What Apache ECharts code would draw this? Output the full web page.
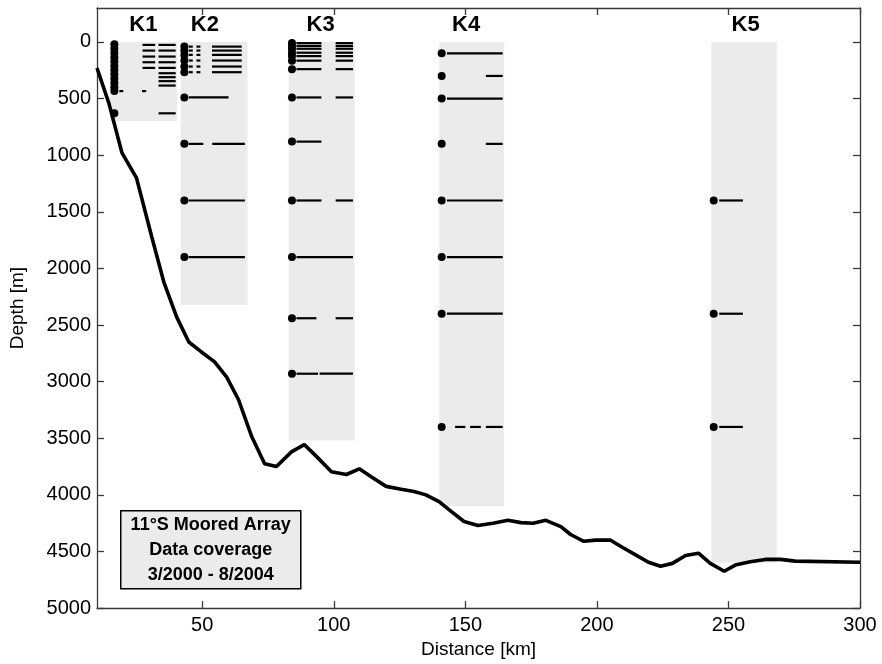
<!DOCTYPE html>
<html>
<head>
<meta charset="utf-8">
<script src="https://cdn.jsdelivr.net/npm/echarts@6/dist/echarts.min.js"></script>
<style>
  html, body { margin: 0; padding: 0; background: #fff; }
  #chart { width: 882px; height: 664px; }
</style>
</head>
<body>
<div id="chart"></div>
<script>
// Axis ticks
const xTicks = [50, 100, 150, 200, 250, 300];
const yTicks = [0, 500, 1000, 1500, 2000, 2500, 3000, 3500, 4000, 4500, 5000];

// Bottom topography along the section
const distKm = [10, 14.5, 19.5, 25, 30.8, 35.4, 40.3, 44.9, 49.8, 54.7, 59.3, 63.8, 68.8, 73.7, 78.2,
  83.9, 88.8, 93.4, 99.1, 104.8, 109.7, 114.2, 119.9, 125.6, 130.5, 135, 140, 144.6, 149.5, 154.8,
  160.5, 166.2, 171.1, 175.7, 180.6, 186.3, 190, 195, 199.5, 205.2, 209.8, 214.7, 219.6, 224.2,
  228.7, 233.7, 238.6, 243.1, 248.4, 252.6, 258.3, 264, 269.7, 275.4, 300];
const depthM = [230, 540, 980, 1200, 1720, 2120, 2430, 2650, 2740, 2825, 2960, 3160, 3485, 3725, 3750,
  3620, 3556, 3660, 3795, 3820, 3770, 3840, 3925, 3950, 3970, 4000, 4060, 4145, 4235, 4270,
  4250, 4225, 4245, 4250, 4225, 4280, 4350, 4410, 4400, 4400, 4465, 4530, 4595, 4630,
  4605, 4535, 4515, 4605, 4675, 4620, 4590, 4570, 4570, 4585, 4595];

// Moorings: name, label position, shaded coverage panel extent (km) and panel bottom depth (m)
const moorNames = ['K1', 'K2', 'K3', 'K4', 'K5'];
const labelKm = [27.6, 51.0, 95.0, 150.3, 256.5];
const panelStart = [15, 41.8, 82.9, 140.1, 243.5];
const panelEnd = [40.4, 67.2, 107.9, 164.8, 268.4];
const panelBottom = [700, 2320, 3520, 4100, 4600];
const dotKm = [16.6, 43.2, 84.1, 141, 244.4];

// Instrument depths (m) per mooring
const k1Depths = [20, 58, 96, 134, 172, 210, 248, 286, 324, 362, 400, 434, 630];
const k2Depths = [41, 76, 114, 164, 217, 267, 490, 900, 1400, 1900];
const k3Depths = [10, 35, 60, 95, 125, 165, 240, 490, 880, 1400, 1900, 2440, 2930];
const k4Depths = [100, 300, 500, 900, 1400, 1900, 2400, 3400];
const k5Depths = [1400, 2400, 3400];

// Record segments: [depth m, start km, end km]
const k1Records = [
  [26, 27.3, 32.1], [76, 27.3, 32.1], [129, 27.3, 32.1], [179, 27.3, 32.1], [229, 27.3, 32.1],
  [26, 33.4, 39.9], [76, 33.4, 39.9], [129, 33.4, 39.9], [179, 33.4, 39.9], [229, 33.4, 39.9],
  [276, 33.4, 39.9], [311, 33.4, 39.9], [346, 33.4, 39.9], [385, 33.4, 39.9],
  [434, 18.5, 20.0], [434, 27.1, 28.7], [630, 33.4, 39.9]
];
const k2Records = [
  [41, 44.9, 46.4], [41, 47.8, 49.3], [41, 53.7, 65.0],
  [76, 44.9, 46.4], [76, 47.8, 49.3], [76, 53.7, 65.0],
  [114, 44.9, 46.4], [114, 47.8, 49.3], [114, 53.7, 65.0],
  [164, 44.9, 46.4], [164, 47.8, 49.3], [164, 53.7, 65.0],
  [217, 44.9, 46.4], [217, 47.8, 49.3], [217, 53.7, 65.0],
  [267, 44.9, 46.4], [267, 47.8, 49.3], [267, 53.7, 65.0],
  [490, 44.9, 60.0],
  [900, 44.8, 50.4], [900, 53.8, 66.2],
  [1400, 44.8, 66.2], [1900, 44.8, 66.2]
];
const k3Records = [
  [10, 85.8, 95.3], [35, 85.8, 95.3], [60, 85.8, 95.3], [95, 85.8, 95.3], [125, 85.8, 95.3], [165, 85.8, 95.3], [240, 85.8, 95.3],
  [10, 100.7, 107.3], [35, 100.7, 107.3], [60, 100.7, 107.3], [95, 100.7, 107.3], [125, 100.7, 107.3], [165, 100.7, 107.3], [240, 100.7, 107.3],
  [490, 85.8, 95.3], [490, 100.7, 107.3],
  [880, 85.8, 95.3],
  [1400, 85.8, 95.3], [1400, 100.7, 107.3],
  [1900, 85.8, 107.3],
  [2440, 85.8, 93.4], [2440, 100.7, 107.3],
  [2930, 85.8, 94.0], [2930, 94.6, 107.3]
];
const k4Records = [
  [100, 143, 164.2], [300, 157.8, 164.2], [500, 143, 164.2], [900, 157.8, 164.2],
  [1400, 143, 164.2], [1900, 143, 164.2], [2400, 143, 164.2],
  [3400, 146.1, 150.0], [3400, 151.8, 155.9], [3400, 157.8, 164.2]
];
const k5Records = [
  [1400, 246.5, 255.5], [2400, 246.5, 255.5], [3400, 246.5, 255.5]
];

const FONT = '"Liberation Sans", Arial, sans-serif';
const chart = echarts.init(document.getElementById('chart'));

const depthsAll = [k1Depths, k2Depths, k3Depths, k4Depths, k5Depths];
const dotData = [];
depthsAll.forEach((arr, i) => arr.forEach(d => dotData.push([dotKm[i], d])));
const recordData = [].concat(k1Records, k2Records, k3Records, k4Records, k5Records);
const panelData = moorNames.map((n, i) => [panelStart[i], panelEnd[i], panelBottom[i], labelKm[i]]);

const axisLineStyle = { color: '#3a3a3a', width: 1.3 };
const plainNumber = v => String(v);

chart.setOption({
  animation: false,
  backgroundColor: '#fff',
  grid: { left: 94, right: 22, top: 8, bottom: 52, containLabel: false },
  xAxis: [{
    type: 'value', min: 10, max: 300, position: 'bottom',
    name: 'Distance [km]', nameLocation: 'middle', nameGap: 31,
    nameTextStyle: { fontFamily: FONT, fontSize: 19, color: '#000' },
    axisLine: { show: true, onZero: false, lineStyle: axisLineStyle },
    axisTick: { show: true, inside: true, length: 7, customValues: xTicks, lineStyle: axisLineStyle },
    axisLabel: { customValues: xTicks, formatter: plainNumber, fontFamily: FONT, fontSize: 20, color: '#000', margin: 7 },
    splitLine: { show: false }
  }, {
    type: 'value', min: 10, max: 300, position: 'top',
    axisLine: { show: true, onZero: false, lineStyle: axisLineStyle },
    axisTick: { show: true, inside: true, length: 7, customValues: xTicks, lineStyle: axisLineStyle },
    axisLabel: { show: false },
    splitLine: { show: false }
  }],
  yAxis: [{
    type: 'value', min: -300, max: 5000, inverse: true, position: 'left',
    name: 'Depth [m]', nameLocation: 'middle', nameGap: 70, nameRotate: 90,
    nameTextStyle: { fontFamily: FONT, fontSize: 19, color: '#000' },
    axisLine: { show: true, onZero: false, lineStyle: axisLineStyle },
    axisTick: { show: true, inside: true, length: 7, customValues: yTicks, lineStyle: axisLineStyle },
    axisLabel: { customValues: yTicks, formatter: plainNumber, fontFamily: FONT, fontSize: 20, color: '#000', margin: 6 },
    splitLine: { show: false }
  }, {
    type: 'value', min: -300, max: 5000, inverse: true, position: 'right',
    axisLine: { show: true, onZero: false, lineStyle: axisLineStyle },
    axisTick: { show: true, inside: true, length: 7, customValues: yTicks, lineStyle: axisLineStyle },
    axisLabel: { show: false },
    splitLine: { show: false }
  }],
  series: [
    {
      // shaded coverage panels and mooring names
      type: 'custom',
      z: 1,
      data: panelData,
      renderItem: function (params, api) {
        const x0 = api.value(0), x1 = api.value(1), bot = api.value(2);
        const p0 = api.coord([x0, 0]);
        const p1 = api.coord([x1, bot]);
        const pc = api.coord([api.value(3), -150]);
        return {
          type: 'group',
          children: [
            { type: 'rect', shape: { x: p0[0], y: p0[1], width: p1[0] - p0[0], height: p1[1] - p0[1] },
              style: { fill: '#ebebeb' } },
            { type: 'text', x: pc[0], y: pc[1],
              style: { text: moorNames[params.dataIndex], font: 'bold 22px ' + FONT, fill: '#000',
                       align: 'center', verticalAlign: 'middle' } }
          ]
        };
      },
      encode: { x: [0, 1], y: 2 },
      silent: true
    },
    {
      // bottom topography
      type: 'line',
      z: 3,
      data: distKm.map((d, i) => [d, depthM[i]]),
      showSymbol: false,
      symbol: 'none',
      lineStyle: { color: '#000', width: 3.6 },
      silent: true
    },
    {
      // data records per instrument
      type: 'custom',
      z: 4,
      data: recordData,
      renderItem: function (params, api) {
        const d = api.value(0);
        const a = api.coord([api.value(1), d]);
        const b = api.coord([api.value(2), d]);
        return { type: 'line', shape: { x1: a[0], y1: a[1], x2: b[0], y2: b[1] },
                 style: { stroke: '#000', lineWidth: 2.2 } };
      },
      encode: { x: [1, 2], y: 0 },
      silent: true
    },
    {
      // instrument positions
      type: 'scatter',
      z: 5,
      data: dotData,
      symbol: 'circle',
      symbolSize: 8,
      itemStyle: { color: '#000', opacity: 1 },
      silent: true
    }
  ],
  graphic: [{
    type: 'group',
    left: 120, top: 510,
    children: [
      { type: 'rect', shape: { x: 0, y: 0, width: 180, height: 78 },
        style: { fill: '#ebebeb', stroke: '#000', lineWidth: 1.5 } },
      { type: 'text', x: 90, y: 14, style: { text: '11°S Moored Array', font: 'bold 18px ' + FONT, fill: '#000', align: 'center', verticalAlign: 'middle' } },
      { type: 'text', x: 90, y: 39, style: { text: 'Data coverage', font: 'bold 18px ' + FONT, fill: '#000', align: 'center', verticalAlign: 'middle' } },
      { type: 'text', x: 90, y: 64, style: { text: '3/2000 - 8/2004', font: 'bold 18px ' + FONT, fill: '#000', align: 'center', verticalAlign: 'middle' } }
    ]
  }]
});
</script>
</body>
</html>
